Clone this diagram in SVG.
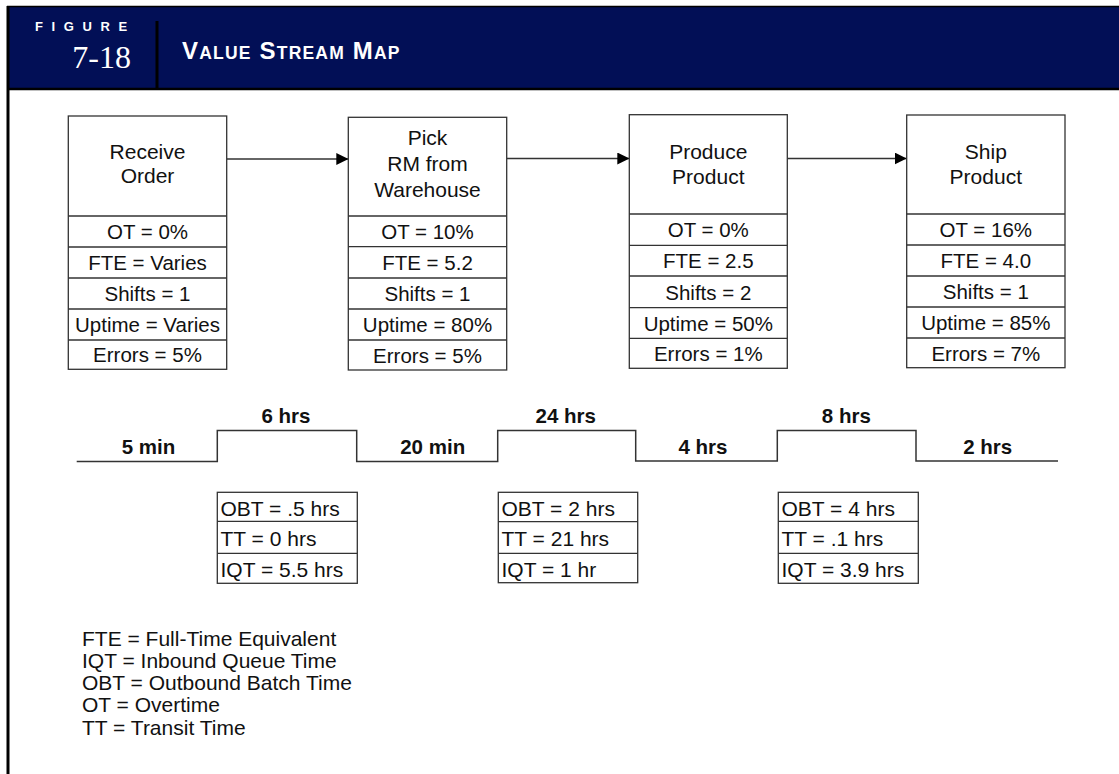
<svg xmlns="http://www.w3.org/2000/svg" width="1119" height="774" viewBox="0 0 1119 774">
<style>
.band{fill:#020f56}
.box{fill:#fff;stroke:#333;stroke-width:1.3}
.sep{stroke:#333;stroke-width:1.3}
.t{font-family:"Liberation Sans",Arial,Helvetica,sans-serif;font-size:20.5px;fill:#111;text-anchor:middle}
.h{font-size:21px}
.s{font-size:21px;text-anchor:start}
.lg{font-size:21px;text-anchor:start}
.b{font-family:"Liberation Sans",Arial,Helvetica,sans-serif;font-weight:bold;font-size:20.5px;fill:#111;text-anchor:middle}
.conn{stroke:#333;stroke-width:1.5;fill:none}
.tl{stroke:#333;stroke-width:1.5;fill:none}
</style>
<defs>
<marker id="ah" markerUnits="userSpaceOnUse" markerWidth="12" markerHeight="12" refX="12" refY="6" orient="auto">
<path d="M0,0 L12,6 L0,12 z" fill="#000"/>
</marker>
</defs>
<rect width="1119" height="774" fill="#fff"/>
<g id="header">
<rect class="band" x="7" y="6" width="1112" height="83"/>
<line x1="7" y1="6.5" x2="1119" y2="6.5" stroke="#000" stroke-width="1.5"/>
<line x1="7" y1="89" x2="1119" y2="89" stroke="#000" stroke-width="2.5"/>
<line x1="8" y1="6" x2="8" y2="774" stroke="#000" stroke-width="3"/>
<line x1="157" y1="21" x2="157" y2="89" stroke="#000" stroke-width="3"/>
<text x="35" y="31" font-family="Liberation Sans,Arial,sans-serif" font-weight="bold" font-size="13" letter-spacing="8.6" fill="#fff">FIGURE</text>
<text x="131" y="68" font-family="Liberation Serif,Times New Roman,serif" font-size="32" fill="#fff" text-anchor="end">7-18</text>
<text x="182" y="59" font-family="Liberation Sans,Arial,sans-serif" font-weight="bold" font-size="24" letter-spacing="1.2" fill="#fff">V<tspan font-size="17.5">ALUE</tspan> S<tspan font-size="17.5">TREAM</tspan> M<tspan font-size="17.5">AP</tspan></text>
</g>
<g id="connectors">
<line class="conn" x1="226.7" y1="159" x2="348.3" y2="159" marker-end="url(#ah)"/>
<line class="conn" x1="506.7" y1="158.5" x2="629.3" y2="158.5" marker-end="url(#ah)"/>
<line class="conn" x1="787.3" y1="158.5" x2="906.7" y2="158.5" marker-end="url(#ah)"/>
</g>
<g id="receive-order">
<rect class="box" x="68.3" y="116" width="158.4" height="253.3"/>
<line class="sep" x1="68.3" y1="216" x2="226.7" y2="216"/>
<line class="sep" x1="68.3" y1="247" x2="226.7" y2="247"/>
<line class="sep" x1="68.3" y1="278" x2="226.7" y2="278"/>
<line class="sep" x1="68.3" y1="309" x2="226.7" y2="309"/>
<line class="sep" x1="68.3" y1="340" x2="226.7" y2="340"/>
<text class="t h" x="147.5" y="159.3">Receive</text>
<text class="t h" x="147.5" y="183.3">Order</text>
<text class="t" x="147.5" y="239.3">OT = 0%</text>
<text class="t" x="147.5" y="270.3">FTE = Varies</text>
<text class="t" x="147.5" y="301.3">Shifts = 1</text>
<text class="t" x="147.5" y="332.3">Uptime = Varies</text>
<text class="t" x="147.5" y="362">Errors = 5%</text>
</g>
<g id="pick-rm">
<rect class="box" x="348.3" y="117.3" width="158.4" height="252.7"/>
<line class="sep" x1="348.3" y1="216" x2="506.7" y2="216"/>
<line class="sep" x1="348.3" y1="246.7" x2="506.7" y2="246.7"/>
<line class="sep" x1="348.3" y1="278" x2="506.7" y2="278"/>
<line class="sep" x1="348.3" y1="309" x2="506.7" y2="309"/>
<line class="sep" x1="348.3" y1="340" x2="506.7" y2="340"/>
<text class="t h" x="427.5" y="145">Pick</text>
<text class="t h" x="427.5" y="170.8">RM from</text>
<text class="t h" x="427.5" y="196.5">Warehouse</text>
<text class="t" x="427.5" y="239.3">OT = 10%</text>
<text class="t" x="427.5" y="270.3">FTE = 5.2</text>
<text class="t" x="427.5" y="301.3">Shifts = 1</text>
<text class="t" x="427.5" y="332.3">Uptime = 80%</text>
<text class="t" x="427.5" y="362.5">Errors = 5%</text>
</g>
<g id="produce-product">
<rect class="box" x="629.3" y="114.7" width="158" height="253.6"/>
<line class="sep" x1="629.3" y1="214" x2="787.3" y2="214"/>
<line class="sep" x1="629.3" y1="245.3" x2="787.3" y2="245.3"/>
<line class="sep" x1="629.3" y1="276" x2="787.3" y2="276"/>
<line class="sep" x1="629.3" y1="307.7" x2="787.3" y2="307.7"/>
<line class="sep" x1="629.3" y1="338.3" x2="787.3" y2="338.3"/>
<text class="t h" x="708.3" y="159.3">Produce</text>
<text class="t h" x="708.3" y="184">Product</text>
<text class="t" x="708.3" y="237.3">OT = 0%</text>
<text class="t" x="708.3" y="268.3">FTE = 2.5</text>
<text class="t" x="708.3" y="299.5">Shifts = 2</text>
<text class="t" x="708.3" y="330.5">Uptime = 50%</text>
<text class="t" x="708.3" y="361">Errors = 1%</text>
</g>
<g id="ship-product">
<rect class="box" x="906.7" y="115" width="158.3" height="252.7"/>
<line class="sep" x1="906.7" y1="214" x2="1065" y2="214"/>
<line class="sep" x1="906.7" y1="245" x2="1065" y2="245"/>
<line class="sep" x1="906.7" y1="276" x2="1065" y2="276"/>
<line class="sep" x1="906.7" y1="307" x2="1065" y2="307"/>
<line class="sep" x1="906.7" y1="338" x2="1065" y2="338"/>
<text class="t h" x="985.8" y="159.3">Ship</text>
<text class="t h" x="985.8" y="184">Product</text>
<text class="t" x="985.8" y="237.3">OT = 16%</text>
<text class="t" x="985.8" y="268.3">FTE = 4.0</text>
<text class="t" x="985.8" y="299.3">Shifts = 1</text>
<text class="t" x="985.8" y="330.3">Uptime = 85%</text>
<text class="t" x="985.8" y="360.5">Errors = 7%</text>
</g>
<g id="timeline">
<path class="tl" d="M76.7 461.5 H217.3 V430.5 H356.7 V461.5 H497.7 V430.5 H635.7 V461 H777.3 V430.5 H916 V461 H1058"/>
<text class="b" x="148.5" y="454">5 min</text>
<text class="b" x="286" y="423.3">6 hrs</text>
<text class="b" x="432.7" y="454">20 min</text>
<text class="b" x="565.8" y="422.5">24 hrs</text>
<text class="b" x="703" y="454">4 hrs</text>
<text class="b" x="846.3" y="422.5">8 hrs</text>
<text class="b" x="987.7" y="454">2 hrs</text>
</g>
<g id="transfer-1">
<rect class="box" x="217.3" y="492.3" width="140" height="91"/>
<line class="sep" x1="217.3" y1="521.3" x2="357.3" y2="521.3"/>
<line class="sep" x1="217.3" y1="553.3" x2="357.3" y2="553.3"/>
<text class="t s" x="220.5" y="516">OBT = .5 hrs</text>
<text class="t s" x="220.5" y="545.7">TT = 0 hrs</text>
<text class="t s" x="220.5" y="576.7">IQT = 5.5 hrs</text>
</g>
<g id="transfer-2">
<rect class="box" x="498.3" y="492.3" width="139.4" height="90.4"/>
<line class="sep" x1="498.3" y1="521.7" x2="637.7" y2="521.7"/>
<line class="sep" x1="498.3" y1="553.3" x2="637.7" y2="553.3"/>
<text class="t s" x="501.5" y="516">OBT = 2 hrs</text>
<text class="t s" x="501.5" y="545.7">TT = 21 hrs</text>
<text class="t s" x="501.5" y="576.7">IQT = 1 hr</text>
</g>
<g id="transfer-3">
<rect class="box" x="778.3" y="492.3" width="140" height="91"/>
<line class="sep" x1="778.3" y1="521.3" x2="918.3" y2="521.3"/>
<line class="sep" x1="778.3" y1="553.3" x2="918.3" y2="553.3"/>
<text class="t s" x="781.5" y="516">OBT = 4 hrs</text>
<text class="t s" x="781.5" y="545.7">TT = .1 hrs</text>
<text class="t s" x="781.5" y="576.7">IQT = 3.9 hrs</text>
</g>
<g id="legend">
<text class="t lg" x="82" y="645.7">FTE = Full-Time Equivalent</text>
<text class="t lg" x="82" y="667.9">IQT = Inbound Queue Time</text>
<text class="t lg" x="82" y="690.1">OBT = Outbound Batch Time</text>
<text class="t lg" x="82" y="712.3">OT = Overtime</text>
<text class="t lg" x="82" y="734.5">TT = Transit Time</text>
</g>
</svg>
